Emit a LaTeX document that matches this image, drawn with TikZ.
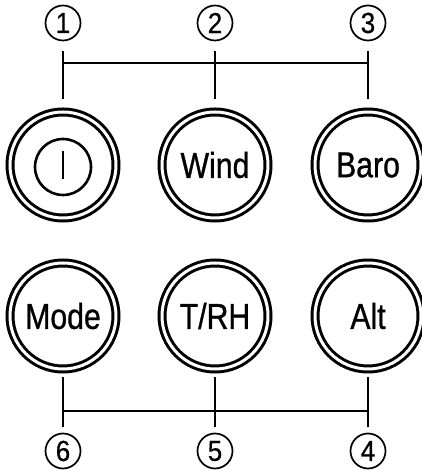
\documentclass[tikz,border=0pt]{standalone}
\usepackage{fontspec}
\setmainfont{Liberation Sans}
\newfontfamily\btnfont[FakeStretch=0.84,FakeBold=0.8]{Liberation Sans}
\newfontfamily\numfont[FakeStretch=0.9,FakeBold=0.5]{Liberation Sans}
\begin{document}
\begin{tikzpicture}[x=1pt,y=1pt,
  btn/.style={circle, draw, double, line width=3pt, double distance=3pt,
    minimum size=106pt, inner sep=0pt, outer sep=0pt,
    font=\btnfont\fontsize{36}{36}\selectfont},
  num/.style={circle, draw, line width=1.7pt, minimum size=35pt, inner sep=0pt,
    outer sep=0pt, font=\numfont\fontsize{29}{29}\selectfont},
  conn/.style={line width=2pt}]
\useasboundingbox (0,0) rectangle (421,470);
% buttons
\node[btn] (b1) at (63,305) {};
\node[btn] (b2) at (215,305) {Wind};
\node[btn] (b3) at (368,305) {Baro};
\node[btn] (b6) at (63,154) {Mode};
\node[btn] (b5) at (215,154) {T/RH};
\node[btn] (b4) at (368,154) {Alt};
% power symbol
\node[circle, draw, line width=2.6pt, minimum size=56pt, inner sep=0pt] (pw) at ([yshift=-2]b1.center) {};
\draw[line width=2.6pt] ([yshift=14]b1.center) -- ([yshift=-14]b1.center);
% labels
\node[num] (l1) at (63,447) {1};
\node[num] (l2) at (215,447) {2};
\node[num] (l3) at (368,447) {3};
\node[num] (l6) at (63,19) {6};
\node[num] (l5) at (215,19) {5};
\node[num] (l4) at (368,19) {4};
% connectors top
\draw[conn, shorten <=11pt, shorten >=13pt] (l1) -- (b1);
\draw[conn, shorten <=11pt, shorten >=13pt] (l2) -- (b2);
\draw[conn, shorten <=11pt, shorten >=13pt] (l3) -- (b3);
\draw[conn] ([yshift=-40]l1.center) -- ([yshift=-40]l3.center);
% connectors bottom
\draw[conn, shorten <=6pt, shorten >=8pt] (l6) -- (b6);
\draw[conn, shorten <=6pt, shorten >=8pt] (l5) -- (b5);
\draw[conn, shorten <=6pt, shorten >=8pt] (l4) -- (b4);
\draw[conn] ([yshift=40]l6.center) -- ([yshift=40]l4.center);
\end{tikzpicture}
\end{document}
